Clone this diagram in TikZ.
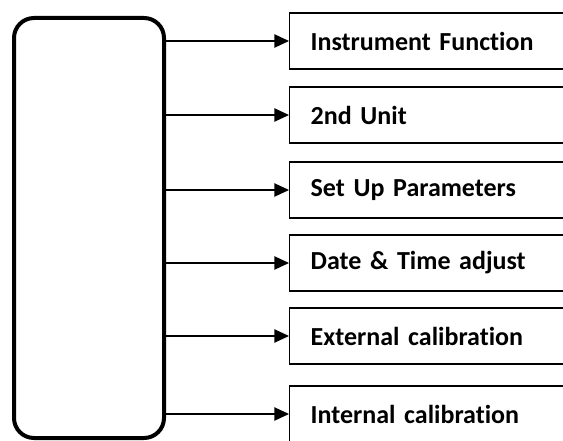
\documentclass[tikz,border=0pt]{standalone}
\usepackage{fontspec}
\setmainfont{Carlito}[Ligatures=NoCommon, WordSpace=0.85]
\usetikzlibrary{arrows.meta}
\begin{document}
\begin{tikzpicture}[x=0.75pt,y=-0.75pt,
		menubox/.style={draw, line width=1pt, anchor=west, minimum height=42pt,
			text width=240pt, inner xsep=15.75pt, align=left,
			font=\bfseries\fontsize{19.5}{22}\selectfont},
		link/.style={line width=1pt, -{Triangle[length=11pt,width=10pt]}}]
		\useasboundingbox (0,0) rectangle (563,441);
		\clip (0,0) rectangle (563,441);
		\node[draw, line width=3pt, rounded corners=15pt, minimum width=112.5pt, minimum height=315pt] (menu) at (89,228) {};
		\foreach \y/\n/\t in {41/func/Instrument Function,
							115/unit/2nd Unit,
							190/setup/Set Up Parameters,
							263/datetime/Date \& Time adjust,
							336/extcal/External calibration,
							414/intcal/Internal calibration}
		{
			\node[menubox] (\n) at (289,\y) {\t};
			\draw[link] (menu.east |- \n.west) -- (\n.west);
		}
	\end{tikzpicture}
\end{document}
